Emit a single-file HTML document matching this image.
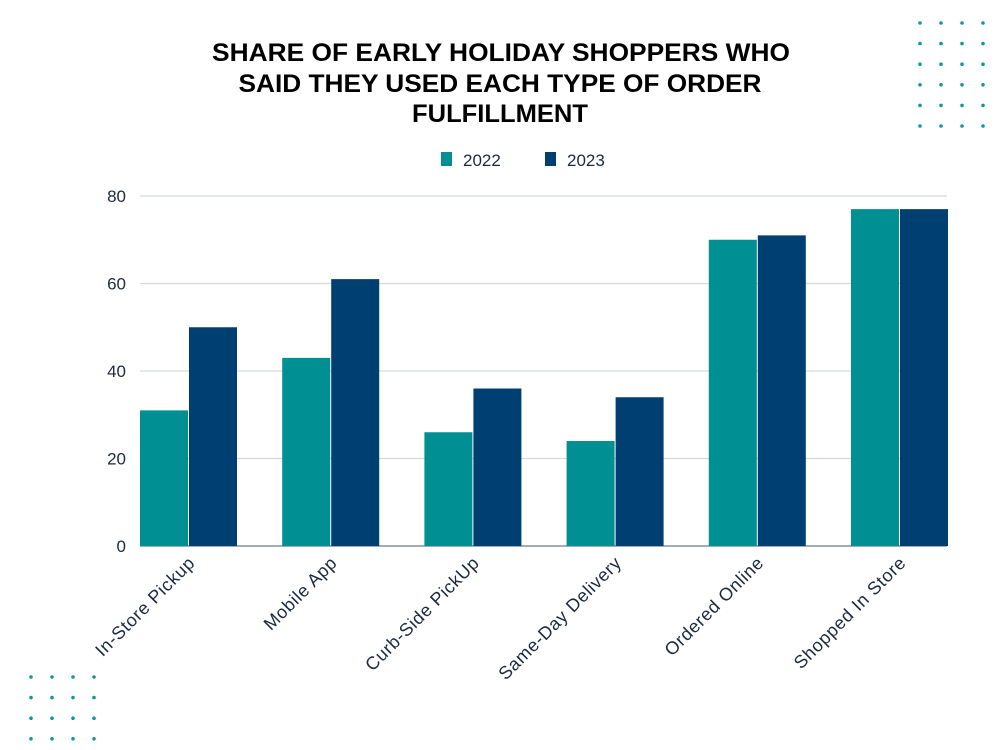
<!DOCTYPE html>
<html><head><meta charset="utf-8"><style>
body{margin:0;background:#fff;}
svg{display:block;font-family:"Liberation Sans",sans-serif;}
</style></head><body>
<svg id="chart" width="1000" height="750" viewBox="0 0 1000 750" xmlns="http://www.w3.org/2000/svg">
<g font-weight="bold" font-size="25" fill="#000" text-anchor="middle">
<text x="501" y="61" textLength="578" lengthAdjust="spacingAndGlyphs">SHARE OF EARLY HOLIDAY SHOPPERS WHO</text>
<text x="500" y="92" textLength="523" lengthAdjust="spacingAndGlyphs">SAID THEY USED EACH TYPE OF ORDER</text>
<text x="500" y="122" textLength="176" lengthAdjust="spacingAndGlyphs">FULFILLMENT</text>
</g>
<g font-size="17" fill="#1a2a40">
<rect x="441" y="152" width="11" height="14" fill="#009094"/>
<text x="463" y="166">2022</text>
<rect x="545" y="152" width="11" height="14" fill="#003f72"/>
<text x="567" y="166">2023</text>
</g>
<g id="grid"></g><g id="bars"></g><g id="labels"></g><g id="dots"></g>
</svg>
<script>
const categories=["In-Store Pickup","Mobile App","Curb-Side PickUp","Same-Day Delivery","Ordered Online","Shopped In Store"];
const values2022=[31,43,26,24,70,77];
const values2023=[50,61,36,34,71,77];
const yTicks=[0,20,40,60,80];
const NS="http://www.w3.org/2000/svg";
const x0=140,x1=947,yBase=546,yTop=196,yMax=80,step=142.2,bw=48;
const y=v=>yBase-(v/yMax)*(yBase-yTop);
const gx=i=>x0+i*step;
function mk(t,a,p){const e=document.createElementNS(NS,t);for(const k in a)e.setAttribute(k,a[k]);p.appendChild(e);return e;}
const grid=document.getElementById('grid');
yTicks.forEach(t=>{
  const l=mk('line',{x1:x0,x2:x1,y1:y(t),y2:y(t),stroke:t===0?'#6b7a8c':'#d5d9de','stroke-width':1.3},grid);
  
  
  const tx=mk('text',{x:126,y:y(t)+6,'text-anchor':'end','font-size':17,fill:'#1a2a40'},grid);
  tx.textContent=t;
  
  
});
const bars=document.getElementById('bars');
categories.forEach((c,i)=>{
  const a=mk('rect',{x:gx(i),y:y(values2022[i]),width:bw,height:yBase-y(values2022[i]),fill:'#009094'},bars);
  
  
  const b=mk('rect',{x:gx(i)+bw+1,y:y(values2023[i]),width:bw,height:yBase-y(values2023[i]),fill:'#003f72'},bars);
  
  
  const cx=gx(i)+bw+8, cy=564;
  const t=mk('text',{x:cx,y:cy,'text-anchor':'end','font-size':18,'letter-spacing':'0.6',fill:'#1a2a40',transform:`rotate(-45 ${cx} ${cy})`},document.getElementById('labels'));
  t.textContent=c;
  
  
});
const dots=document.getElementById('dots');
[[920,23],[31,677]].forEach(([sx,sy],k)=>{
  const rows=k===0?6:4;
  for(let r=0;r<rows;r++)for(let c=0;c<4;c++){
    const d=mk('circle',{cx:sx+c*21,cy:sy+r*20.6,r:1.8,fill:'#0f9a96'},dots);
    
    
  }
});
</script>
</body></html>
